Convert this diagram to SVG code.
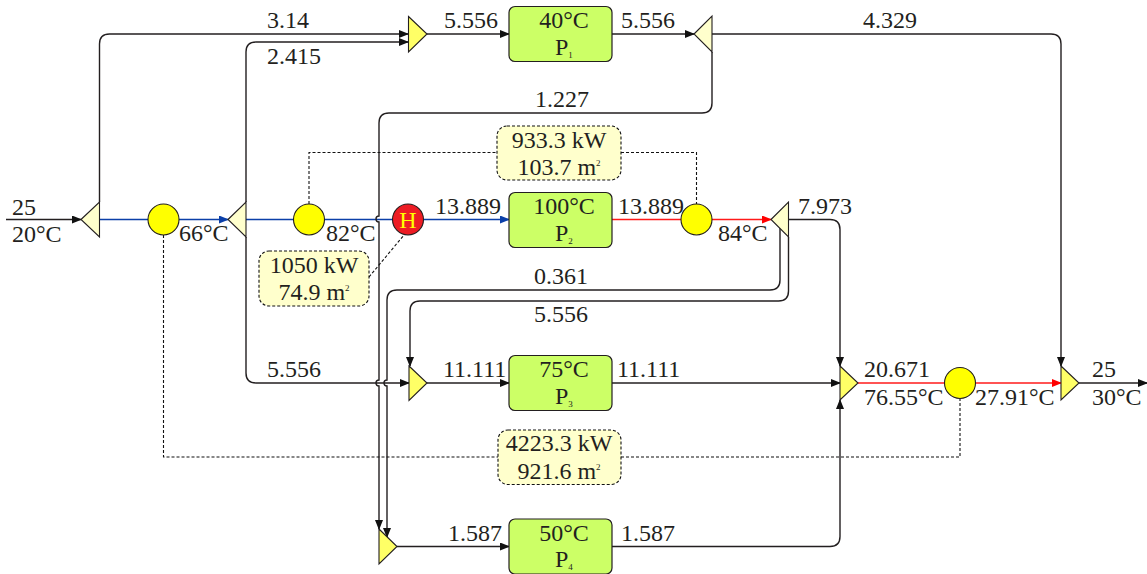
<svg xmlns="http://www.w3.org/2000/svg" width="1147" height="574" viewBox="0 0 1147 574">
<style>
text{font-family:"Liberation Serif","Times New Roman",serif;font-size:24px;fill:#231f20}
.m{text-anchor:middle}
.s{font-size:9px}
.k{fill:none;stroke:#231f20;stroke-width:1.4}
.mk{marker-end:url(#ak)}
.b{fill:none;stroke:#0b3fa8;stroke-width:1.5}
.r{fill:none;stroke:#ff1a1a;stroke-width:1.5}
.d{fill:none;stroke:#111;stroke-width:1.1;stroke-dasharray:3 2}
.sp{fill:#ffffcc;stroke:#231f20;stroke-width:1.1}
.mx{fill:#ffff66;stroke:#231f20;stroke-width:1.1}
.hx{fill:#ffff00;stroke:#231f20;stroke-width:1.1}
.p{fill:#ccff66;stroke:#231f20;stroke-width:1.2}
.lb{fill:#ffffcc;stroke:#111;stroke-width:1.1;stroke-dasharray:3 2}
</style>
<defs>
<marker id="ak" markerUnits="userSpaceOnUse" markerWidth="10" markerHeight="8" refX="9" refY="4" orient="auto"><path d="M0 0L10 4L0 8Z" fill="#111"/></marker>
<marker id="ab" markerUnits="userSpaceOnUse" markerWidth="10" markerHeight="8" refX="9" refY="4" orient="auto"><path d="M0 0L10 4L0 8Z" fill="#0b3fa8"/></marker>
<marker id="ar" markerUnits="userSpaceOnUse" markerWidth="10" markerHeight="8" refX="9" refY="4" orient="auto"><path d="M0 0L10 4L0 8Z" fill="#ff0000"/></marker>
</defs>
<g id="connectors">
<path class="k mk" d="M6 219.500H81"/>
<path class="b" d="M99 219.500H148"/>
<path class="b" marker-end="url(#ab)" d="M179 219.500H228"/>
<path class="b" d="M246 219.500H294"/>
<path class="b" d="M324 219.500H393"/>
<path class="b" marker-end="url(#ab)" d="M423 219.500H509"/>
<path class="r" d="M612 219.500H681"/>
<path class="r" marker-end="url(#ar)" d="M711 219.500H771"/>
<path class="k mk" d="M99.500 202V44Q99.500 34 109.500 34H408"/>
<path class="k mk" d="M246 202V52Q246 42 256 42H408"/>
<path class="k mk" d="M246 237V373Q246 383 256 383H409"/>
<path class="k mk" d="M427 34H509"/>
<path class="k mk" d="M612 34H694"/>
<path class="k mk" d="M712 34H1051Q1061 34 1061 44V366"/>
<path class="k mk" d="M712 52V103Q712 113 702 113H389Q379 113 379 123V216A3 3 0 0 0 379 222V380A3 3 0 0 0 379 386V529"/>
<path class="k mk" d="M780 228V280Q780 290 770 290H397Q387 290 387 300V380A3 3 0 0 0 387 386V537"/>
<path class="k mk" d="M788.500 237V291Q788.500 301 778.500 301H420Q410 301 410 311V366"/>
<path class="k mk" d="M788.500 219.500H830Q840 219.500 840 229.500V366"/>
<path class="k mk" d="M427 383H509"/>
<path class="k mk" d="M612 383H840"/>
<path class="k mk" d="M397 546.500H509"/>
<path class="k mk" d="M612 546.500H830Q840 546.500 840 536.500V400"/>
<path class="r" d="M858 383H945"/>
<path class="r" marker-end="url(#ar)" d="M975 383H1061"/>
<path class="k mk" d="M1079 383H1147"/>
<path class="d" d="M309 204V152.500H497M621 152.500H696.500V204"/>
<path class="d" d="M163.500 235V457H498M621 457H960V399"/>
<path class="d" d="M369 277L404 235"/>
</g>
<g id="split1"><path class="sp" d="M81 219.500L99.500 202V237Z"/></g>
<g id="hx1"><circle class="hx" cx="163.500" cy="219.500" r="15.500"/></g>
<g id="split2"><path class="sp" d="M228 219.500L246 202V237Z"/></g>
<g id="hx2"><circle class="hx" cx="309" cy="219.500" r="15.500"/></g>
<g id="heater"><circle cx="408" cy="219.500" r="15.500" fill="#ed1c24" stroke="#231f20" stroke-width="1.100"/><text class="m" x="408" y="228" style="fill:#ffff00">H</text></g>
<g id="split3"><path class="sp" d="M694 34L712 16V52Z"/></g>
<g id="split4"><path class="sp" d="M771 219.500L788.500 202V237Z"/></g>
<g id="hx3"><circle class="hx" cx="696.500" cy="219.500" r="15.500"/></g>
<g id="hx4"><circle class="hx" cx="960" cy="383" r="15.500"/></g>
<g id="mix1"><path class="mx" d="M408.500 16.500L427 34L408.500 52Z"/></g>
<g id="mix2"><path class="mx" d="M409 366L427 383L409 400.500Z"/></g>
<g id="mix3"><path class="mx" d="M379 529L397 546.500L379 564Z"/></g>
<g id="mix4"><path class="mx" d="M840 366L858 383L840 400Z"/></g>
<g id="mix5"><path class="mx" d="M1061 366L1079 383L1061 400Z"/></g>
<g id="p1"><rect class="p" x="509" y="6.500" width="103" height="55" rx="6"/><text class="m" x="564" y="28">40°C</text><text x="555" y="55">P<tspan class="s" dy="3">1</tspan></text></g>
<g id="p2"><rect class="p" x="509" y="192.500" width="103" height="55" rx="6"/><text class="m" x="564" y="214">100°C</text><text x="555" y="241">P<tspan class="s" dy="3">2</tspan></text></g>
<g id="p3"><rect class="p" x="509" y="355.500" width="103" height="55" rx="6"/><text class="m" x="564" y="377">75°C</text><text x="555" y="404">P<tspan class="s" dy="3">3</tspan></text></g>
<g id="p4"><rect class="p" x="509" y="519" width="103" height="55" rx="6"/><text class="m" x="564" y="541">50°C</text><text x="555" y="567">P<tspan class="s" dy="3">4</tspan></text></g>
<g id="box1"><rect class="lb" x="497" y="126" width="124" height="54" rx="10"/><text class="m" x="559" y="148">933.3 kW</text><text class="m" x="559" y="175">103.7 m<tspan class="s" dy="-9">2</tspan></text></g>
<g id="box2"><rect class="lb" x="259" y="251" width="110" height="55" rx="10"/><text class="m" x="314" y="273">1050 kW</text><text class="m" x="314" y="300">74.9 m<tspan class="s" dy="-9">2</tspan></text></g>
<g id="box3"><rect class="lb" x="498" y="430" width="123" height="54.500" rx="10"/><text class="m" x="559" y="451">4223.3 kW</text><text class="m" x="559" y="479">921.6 m<tspan class="s" dy="-9">2</tspan></text></g>
<g id="labels">
<text x="12" y="215">25</text><text x="12" y="242">20°C</text>
<text x="179" y="241">66°C</text><text x="326" y="241">82°C</text>
<text x="267" y="28">3.14</text><text x="267" y="64">2.415</text><text x="267" y="377">5.556</text>
<text x="444" y="28">5.556</text><text x="621" y="28">5.556</text><text x="863" y="28">4.329</text>
<text x="535" y="107">1.227</text>
<text x="435" y="214">13.889</text><text x="618" y="214">13.889</text>
<text x="718" y="241">84°C</text><text x="798" y="214">7.973</text>
<text x="534" y="284">0.361</text><text x="534" y="322">5.556</text>
<text x="443" y="377">11.111</text><text x="617" y="377">11.111</text>
<text x="864" y="377">20.671</text><text x="864" y="405">76.55°C</text><text x="975" y="405">27.91°C</text>
<text x="1092" y="377">25</text><text x="1092" y="405">30°C</text>
<text x="448" y="541">1.587</text><text x="621" y="541">1.587</text>
</g>
</svg>
